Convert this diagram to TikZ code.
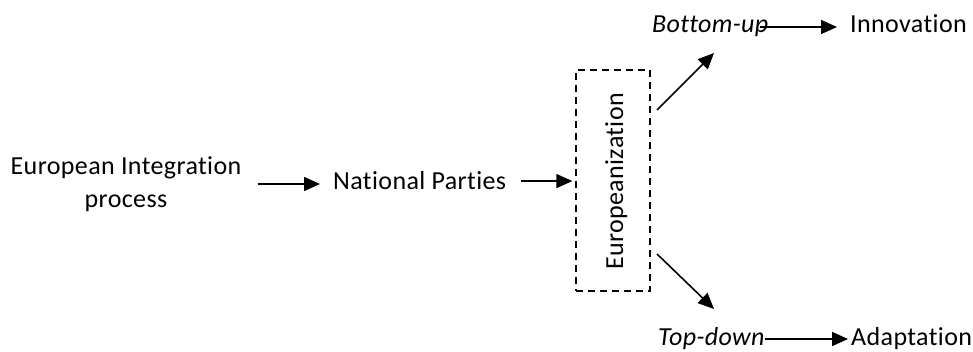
\documentclass[tikz,border=0pt]{standalone}
\usepackage{fontspec}
\setmainfont{Carlito}[RawFeature=-liga, LetterSpace=1.5]
\usetikzlibrary{arrows.meta}
\begin{document}
\begin{tikzpicture}[x=1pt,y=1pt,
  txt/.style={inner sep=0pt, font=\fontsize{26}{33}\selectfont},
  arr/.style={line width=1.6pt, -{Triangle[length=16pt,width=14pt]}},
  dbox/.style={draw, line width=1.3pt, dash pattern=on 7pt off 5pt, minimum width=74pt, minimum height=221pt, inner sep=0pt}]
\useasboundingbox (0,0) rectangle (973,-352);
\node[txt, align=center] (eip) at (126,-184) {European Integration\\process};
\node[txt, anchor=base west] (np) at (333,-190) {National Parties};
\node[dbox] (box) at (613,-180.5) {};
\node[txt, rotate=90, anchor=base] (eu) at (623,-181.5) {Europeanization};
\node[txt, anchor=base west, font=\fontsize{26}{33}\selectfont\itshape] (bu) at (652,-33) {Bottom-up};
\node[txt, anchor=base west] (inno) at (850,-33) {Innovation};
\node[txt, anchor=base west, font=\fontsize{26}{33}\selectfont\itshape] (td) at (658,-345) {Top-down};
\node[txt, anchor=base west] (adap) at (851,-345) {Adaptation};
\coordinate (d1s) at (657,-110);
\coordinate (d1e) at (714,-53);
\coordinate (d2s) at (657,-254);
\coordinate (d2e) at (714,-309);
\coordinate (bus) at (760,-27);
\coordinate (tds) at (765,-339);
\draw[arr, shorten <=16pt, shorten >=13pt] (eip.east) -- (eip.east -| np.west);
\draw[arr, shorten <=15pt, shorten >=3pt] (np.east) -- (np.east -| box.west);
\draw[arr] (d1s) -- (d1e);
\draw[arr] (d2s) -- (d2e);
\draw[arr, shorten >=13pt] (bus) -- (bus -| inno.west);
\draw[arr, shorten >=3pt] (tds) -- (tds -| adap.west);
\end{tikzpicture}
\end{document}
